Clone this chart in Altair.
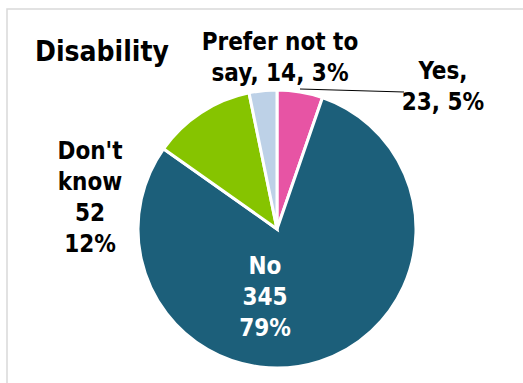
import altair as alt
import pandas as pd

categories = ["Yes", "No", "Don't know", "Prefer not to say"]
counts = [23, 345, 52, 14]
percents = [5, 79, 12, 3]
colors = ["#E754A4", "#1C5F7A", "#86C400", "#BDD1E7"]

labels = [
    f"{categories[0]},\n{counts[0]}, {percents[0]}%",
    f"{categories[1]}\n{counts[1]}\n{percents[1]}%",
    "Don't\nknow\n" + f"{counts[2]}\n{percents[2]}%",
    "Prefer not to\n" + f"say, {counts[3]}, {percents[3]}%",
]

df = pd.DataFrame({
    "category": categories,
    "count": counts,
    "percent": percents,
    "order": list(range(len(categories))),
    "label": labels,
})

FONT = "DejaVu Sans Condensed"
base = alt.Chart(df)

border = base.mark_rect(fill=None, stroke="#D9D9D9", strokeWidth=1.5).encode(
    x=alt.value(7), x2=alt.value(540), y=alt.value(9), y2=alt.value(400)
).transform_filter(alt.datum.order == 0)

pie = base.mark_arc(stroke="white", strokeWidth=3, radius=139).encode(
    theta=alt.Theta("count:Q", stack=True),
    order=alt.Order("order:Q"),
    color=alt.Color("category:N", scale=alt.Scale(domain=categories, range=colors), legend=None),
    x=alt.value(277),
    y=alt.value(229),
)

def label_layer(cat, x, y, color="black", align="center"):
    return base.transform_filter(alt.datum.category == cat).mark_text(
        font=FONT, fontWeight="bold", fontSize=24, lineBreak="\n", lineHeight=31,
        align=align, baseline="middle", color=color,
    ).encode(text="label:N", x=alt.value(x), y=alt.value(y))

title = base.transform_filter(alt.datum.order == 0).mark_text(
    font=FONT, fontWeight="bold", fontSize=28, align="left", baseline="middle", color="black",
).encode(text=alt.value("Disability"), x=alt.value(35), y=alt.value(53))

leader = base.transform_filter(alt.datum.order == 0).mark_rule(color="black", strokeWidth=1).encode(
    x=alt.value(300), x2=alt.value(404), y=alt.value(89), y2=alt.value(92)
)

chart = alt.layer(
    border,
    pie,
    leader,
    title,
    label_layer("Yes", 443, 72),
    label_layer("No", 265, 267, color="white"),
    label_layer("Don't know", 90, 152),
    label_layer("Prefer not to say", 280, 43),
).properties(
    width=523, height=383, padding=0,
    autosize=alt.AutoSizeParams(type="none"),
).configure_view(stroke=None)

chart.save("out.html", embed_options={"renderer": "svg", "actions": False})
